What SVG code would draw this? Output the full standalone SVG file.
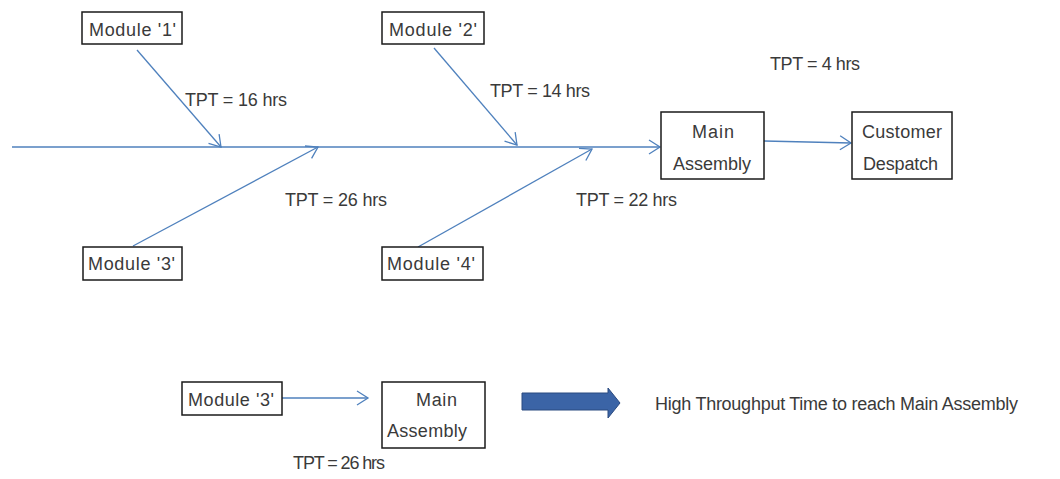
<svg xmlns="http://www.w3.org/2000/svg" width="1060" height="479" viewBox="0 0 1060 479">
<style>
.box{fill:#fff;stroke:#1a1a1a;stroke-width:1.5}
.t{font-family:"Liberation Sans",Arial,sans-serif;font-size:18px;fill:#3a3a3a}
.c{stroke:#4f81bd;stroke-width:1.3;fill:none}
</style>
<defs>
<marker id="ah" markerUnits="userSpaceOnUse" markerWidth="14" markerHeight="16" refX="12" refY="8" orient="auto">
<path d="M1,1 L12,8 L1,15" fill="none" stroke="#4f81bd" stroke-width="1.3"/>
</marker>
</defs>
<rect width="1060" height="479" fill="#fff"/>
<g id="connectors">
<line class="c" x1="12" y1="147" x2="660" y2="147" marker-end="url(#ah)"/>
<line class="c" x1="137" y1="50" x2="221" y2="147" marker-end="url(#ah)"/>
<line class="c" x1="434" y1="48" x2="517" y2="145" marker-end="url(#ah)"/>
<line class="c" x1="133" y1="246" x2="318" y2="147" marker-end="url(#ah)"/>
<line class="c" x1="418" y1="247" x2="592" y2="149" marker-end="url(#ah)"/>
<line class="c" x1="764" y1="141" x2="851" y2="143" marker-end="url(#ah)"/>
<line class="c" x1="282" y1="398" x2="368" y2="398" marker-end="url(#ah)"/>
<path d="M522,393 L608,393 L608,388 L620,403 L608,418 L608,410 L522,410 Z" fill="#3b64a6" stroke="#2a4a80" stroke-width="1"/>
</g>
<g id="module1"><rect class="box" x="82" y="12" width="100" height="32"/><text class="t" x="89" y="36" textLength="87">Module '1'</text></g>
<g id="module2"><rect class="box" x="382" y="12" width="102" height="32"/><text class="t" x="389" y="36" textLength="88">Module '2'</text></g>
<g id="module3"><rect class="box" x="83" y="247" width="99" height="33"/><text class="t" x="88" y="270" textLength="87">Module '3'</text></g>
<g id="module4"><rect class="box" x="382" y="247" width="101" height="33"/><text class="t" x="387" y="270" textLength="88">Module '4'</text></g>
<g id="main"><rect class="box" x="661" y="112" width="103" height="67"/><text class="t" x="692" y="138" textLength="42">Main</text><text class="t" x="673" y="170" textLength="78">Assembly</text></g>
<g id="customer"><rect class="box" x="852" y="112" width="100" height="67"/><text class="t" x="862" y="138" textLength="80">Customer</text><text class="t" x="863" y="170" textLength="75">Despatch</text></g>
<g id="labels">
<text class="t" x="185" y="106" textLength="102">TPT = 16 hrs</text>
<text class="t" x="490" y="97" textLength="100">TPT = 14 hrs</text>
<text class="t" x="770" y="70" textLength="90">TPT = 4 hrs</text>
<text class="t" x="285" y="206" textLength="102">TPT = 26 hrs</text>
<text class="t" x="576" y="206" textLength="101">TPT = 22 hrs</text>
<text class="t" x="293" y="469" textLength="92">TPT = 26 hrs</text>
<text class="t" x="655" y="410" textLength="363">High Throughput Time to reach Main Assembly</text>
</g>
<g id="module3b"><rect class="box" x="182" y="382" width="100" height="33"/><text class="t" x="188" y="406" textLength="86">Module '3'</text></g>
<g id="mainb"><rect class="box" x="382" y="382" width="103" height="66"/><text class="t" x="416" y="406" textLength="41">Main</text><text class="t" x="387" y="437" textLength="80">Assembly</text></g>
</svg>
